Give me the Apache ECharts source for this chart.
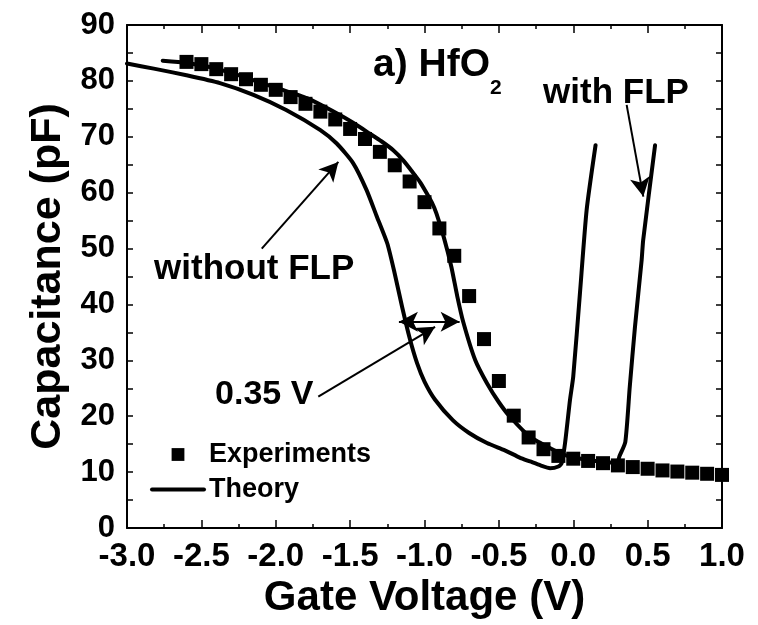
<!DOCTYPE html>
<html>
<head>
<meta charset="utf-8">
<script src="https://cdn.jsdelivr.net/npm/echarts@6/dist/echarts.min.js"></script>
<style>
  html, body { margin: 0; padding: 0; background: #fff; }
  #chart { width: 758px; height: 625px; }
</style>
</head>
<body>
<div id="chart"></div>
<script>
// Measured C-V data (gate voltage in V, capacitance in pF)
const expVoltage = [-2.6, -2.5, -2.4, -2.3, -2.2, -2.1, -2.0, -1.9, -1.8, -1.7, -1.6, -1.5, -1.4, -1.3,
  -1.2, -1.1, -1.0, -0.9, -0.8, -0.7, -0.6, -0.5, -0.4, -0.3, -0.2, -0.1, 0.0, 0.1, 0.2, 0.3,
  0.4, 0.5, 0.6, 0.7, 0.8, 0.9, 1.0];
const expCapacitance = [83.4, 83.0, 82.1, 81.2, 80.3, 79.3, 78.4, 77.1, 75.9, 74.5, 73.1, 71.4, 69.6, 67.3,
  64.9, 62.0, 58.3, 53.6, 48.7, 41.5, 33.8, 26.3, 20.1, 16.2, 14.1, 12.9, 12.4, 12.0, 11.6, 11.2,
  10.9, 10.6, 10.3, 10.1, 9.9, 9.7, 9.5];

// Simulated curve without Fermi-level pinning
const noFlpVoltage = [-3.0, -2.82, -2.6, -2.375, -2.15, -1.93, -1.7, -1.59, -1.48, -1.39, -1.32, -1.25,
  -1.20, -1.15, -1.10, -1.05, -1.0, -0.93, -0.81, -0.70, -0.58, -0.46, -0.36, -0.29, -0.22, -0.156,
  -0.10, -0.078, -0.055, -0.022, 0.0, 0.045, 0.09, 0.15];
const noFlpCapacitance = [83.1, 82.2, 81.0, 79.6, 77.5, 74.8, 71.2, 68.8, 65.3, 60.5, 55.7, 50.9,
  45.5, 39.5, 34.0, 29.5, 26.2, 23.0, 19.3, 17.0, 15.2, 13.9, 12.6, 11.9, 11.2, 10.7,
  11.0, 11.6, 15.2, 22.9, 27.1, 42.0, 56.9, 68.5];

// Simulated curve with Fermi-level pinning
const flpVoltage = [-2.76, -2.6, -2.4, -2.2, -1.99, -1.79, -1.59, -1.48, -1.37, -1.29, -1.21, -1.14,
  -1.075, -1.03, -0.985, -0.95, -0.92, -0.87, -0.82, -0.78, -0.74, -0.66, -0.58, -0.5, -0.425,
  -0.29, -0.135, -0.05, 0.05, 0.15, 0.25, 0.30, 0.31, 0.35, 0.38, 0.415, 0.46, 0.47, 0.55];
const flpCapacitance = [83.6, 83.2, 82.2, 80.6, 78.7, 76.9, 74.2, 72.5, 70.6, 69.2, 67.6, 65.7,
  63.5, 61.9, 59.9, 58.2, 56.3, 52.0, 46.8, 41.5, 36.9, 30.1, 25.9, 22.5, 19.9,
  16.3, 14.0, 13.0, 12.4, 12.0, 11.7, 12.0, 12.8, 15.4, 25.3, 36.0, 48.0, 51.5, 68.5];

const xRange = [-3.0, 1.0];
const yRange = [0, 90];

const pairs = (xs, ys) => xs.map((x, i) => [x, ys[i]]);
const FONT = "'Liberation Sans', Arial, Helvetica, sans-serif";

const chart = echarts.init(document.getElementById('chart'), null, { renderer: 'canvas' });

const frameAxis = {
  min: xRange[0], max: xRange[1], interval: 0.5, type: 'value',
  axisLine: { show: true, onZero: false, lineStyle: { color: '#000', width: 2 } },
  axisTick: { show: true, inside: true, length: 8, lineStyle: { color: '#000', width: 1.5 } },
  minorTick: { show: true, splitNumber: 2, length: 4, lineStyle: { color: '#000', width: 1.5 } },
  splitLine: { show: false }
};

const yFrame = {
  min: yRange[0], max: yRange[1], interval: 10,
  axisTick: { show: true, inside: true, length: 6, lineStyle: { color: '#000', width: 1.5 } },
  minorTick: { show: true, splitNumber: 2, length: 6, lineStyle: { color: '#000', width: 1.5 } }
};

const arrowLine = { color: '#000', width: 2, type: 'solid' };
const theoryLine = { color: '#000', width: 4, join: 'round', cap: 'round' };

chart.setOption({
  animation: false,
  backgroundColor: '#fff',
  grid: { left: 127, right: 36, top: 25, bottom: 97, containLabel: false },
  xAxis: [
    Object.assign({}, frameAxis, {
      position: 'bottom',
      name: 'Gate Voltage (V)', nameLocation: 'middle', nameGap: 48,
      nameTextStyle: { fontFamily: FONT, fontWeight: 'bold', fontSize: 42, color: '#000' },
      axisLabel: {
        show: true, margin: 12, color: '#000', fontFamily: FONT, fontWeight: 'bold', fontSize: 33,
        formatter: v => v.toFixed(1)
      }
    }),
    Object.assign({}, frameAxis, { position: 'top', axisLabel: { show: false } })
  ],
  yAxis: [
    Object.assign({}, frameAxis, yFrame, {
      position: 'left',
      name: 'Capacitance (pF)', nameLocation: 'middle', nameGap: 50, nameRotate: 90,
      nameTextStyle: { fontFamily: FONT, fontWeight: 'bold', fontSize: 43, color: '#000' },
      axisLabel: { show: true, margin: 12, color: '#000', fontFamily: FONT, fontWeight: 'bold', fontSize: 31 }
    }),
    Object.assign({}, frameAxis, yFrame, { position: 'right', axisLabel: { show: false } })
  ],
  legend: {
    orient: 'vertical', left: 150, top: 441, padding: 0,
    itemWidth: 52, itemHeight: 16, itemGap: 8,
    textStyle: { fontFamily: FONT, fontWeight: 'bold', fontSize: 27, color: '#000' },
    data: [
      { name: 'Experiments' },
      { name: 'Theory', itemStyle: { opacity: 0 }, lineStyle: { width: 4, color: '#000' } }
    ]
  },
  series: [
    {
      name: 'Theory', type: 'line', symbol: 'none', smooth: 0.2,
      data: pairs(noFlpVoltage, noFlpCapacitance),
      lineStyle: theoryLine,
      itemStyle: { color: '#000' },
      markLine: {
        silent: true, animation: false, precision: 4,
        label: { show: false },
        lineStyle: arrowLine,
        symbolSize: [15, 19],
        data: [
          // pointer to the unpinned curve
          [{ coord: [-2.094, 50.0], symbol: 'none' }, { coord: [-1.579, 65.5], symbol: 'arrow' }],
          // pointer to the pinned curve
          [{ coord: [0.359, 75.7], symbol: 'none' }, { coord: [0.471, 59.3], symbol: 'arrow' }],
          // 0.35 V shift between the two curves
          [{ coord: [-1.172, 36.9], symbol: 'arrow' }, { coord: [-0.764, 36.9], symbol: 'arrow' }],
          [{ coord: [-1.714, 23.5], symbol: 'none', lineStyle: { curveness: -0.12 } },
           { coord: [-0.929, 36.0], symbol: 'arrow' }]
        ]
      }
    },
    {
      name: 'Theory', type: 'line', symbol: 'none', smooth: 0.2,
      data: pairs(flpVoltage, flpCapacitance),
      lineStyle: theoryLine,
      itemStyle: { color: '#000' }
    },
    {
      name: 'Experiments', type: 'line', symbol: 'rect', symbolSize: 14, showAllSymbol: true,
      data: pairs(expVoltage, expCapacitance),
      lineStyle: { width: 0, opacity: 0 },
      itemStyle: { color: '#000' },
      z: 3
    }
  ]
});

// Annotation texts anchored in data coordinates
function place(v, c) { return chart.convertToPixel({ xAxisIndex: 0, yAxisIndex: 0 }, [v, c]); }
const notes = [
  { text: 'a) HfO', at: [-1.346, 82.84], size: 39 },
  { text: '2', at: [-0.560, 78.7], size: 21 },
  { text: 'with FLP', at: [-0.203, 77.74], size: 35 },
  { text: 'without FLP', at: [-2.818, 46.25], size: 35 },
  { text: '0.35 V', at: [-2.408, 23.89], size: 34 }
];
chart.setOption({
  graphic: notes.map(n => {
    const p = place(n.at[0], n.at[1]);
    return {
      type: 'text', x: p[0], y: p[1], silent: true, z: 100,
      style: {
        text: n.text, fill: '#000', font: 'bold ' + n.size + 'px ' + FONT,
        textAlign: 'left', textVerticalAlign: 'middle'
      }
    };
  })
});
</script>
</body>
</html>
